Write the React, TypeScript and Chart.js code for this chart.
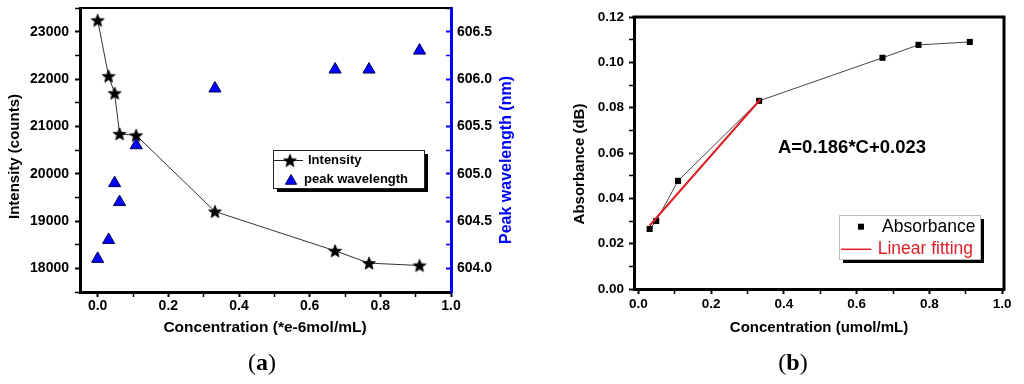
import React, { useEffect, useRef } from 'react';
import { Chart, registerables } from 'chart.js';

Chart.register(...registerables);

// ---------- Panel (a) data ----------
const concA = [0, 0.031, 0.048, 0.062, 0.109, 0.332, 0.672, 0.768, 0.911];
const intensity = [23240, 22060, 21700, 20840, 20810, 19200, 18370, 18110, 18060];
const peakWavelength = [604.1, 604.3, 604.9, 604.7, 605.3, 605.9, 606.1, 606.1, 606.3];
const xTicksA = [0, 0.1, 0.2, 0.3, 0.4, 0.5, 0.6, 0.7, 0.8, 0.9, 1.0];
const xLabelsA = ['0.0', '', '0.2', '', '0.4', '', '0.6', '', '0.8', '', '1.0'];
const yTicksA = [17500, 18000, 18500, 19000, 19500, 20000, 20500, 21000, 21500, 22000, 22500, 23000, 23500];
const yLabelsA = ['', '18000', '', '19000', '', '20000', '', '21000', '', '22000', '', '23000', ''];
const y2TicksA = [603.75, 604, 604.25, 604.5, 604.75, 605, 605.25, 605.5, 605.75, 606, 606.25, 606.5, 606.75];
const y2LabelsA = ['', '604.0', '', '604.5', '', '605.0', '', '605.5', '', '606.0', '', '606.5', ''];

// ---------- Panel (b) data ----------
const concB = [0.031, 0.049, 0.109, 0.332, 0.671, 0.770, 0.911];
const absorbance = [0.0265, 0.030, 0.0477, 0.083, 0.102, 0.1077, 0.109];
const fitConc = [0.031, 0.335];
const fitAbs = [0.028, 0.0836];
const xTicksB = [0, 0.1, 0.2, 0.3, 0.4, 0.5, 0.6, 0.7, 0.8, 0.9, 1.0];
const xLabelsB = ['0.0', '', '0.2', '', '0.4', '', '0.6', '', '0.8', '', '1.0'];
const yTicksB = [0, 0.01, 0.02, 0.03, 0.04, 0.05, 0.06, 0.07, 0.08, 0.09, 0.10, 0.11, 0.12];
const yLabelsB = ['0.00', '', '0.02', '', '0.04', '', '0.06', '', '0.08', '', '0.10', '', '0.12'];

const SANS = '"Liberation Sans", Arial, Helvetica, sans-serif';
const BLUE = '#0000ff';
const RED = '#dd1f26';

function makeStar(size: number, outer: number, inner: number, color: string) {
  const c = document.createElement('canvas');
  c.width = size;
  c.height = size;
  const g = c.getContext('2d')!;
  g.fillStyle = color;
  g.strokeStyle = color;
  g.lineWidth = 0.8;
  g.beginPath();
  for (let i = 0; i < 10; i++) {
    const r = i % 2 === 0 ? outer : inner;
    const ang = -Math.PI / 2 + (i * Math.PI) / 5;
    const px = size / 2 + r * Math.cos(ang);
    const py = size / 2 + 0.6 + r * Math.sin(ang);
    if (i === 0) g.moveTo(px, py);
    else g.lineTo(px, py);
  }
  g.closePath();
  g.fill();
  g.stroke();
  return c;
}

function drawText(ctx: CanvasRenderingContext2D, text: string, x: number, y: number, rot: number, font: string, color: string, align: CanvasTextAlign = 'center') {
  ctx.save();
  ctx.translate(x, y);
  ctx.rotate(rot);
  ctx.font = font;
  ctx.fillStyle = color;
  ctx.textAlign = align;
  ctx.textBaseline = 'middle';
  ctx.fillText(text, 0, 0);
  ctx.restore();
}

function drawTriangle(ctx: CanvasRenderingContext2D, x: number, y: number, r: number) {
  ctx.beginPath();
  ctx.moveTo(x, y - r);
  ctx.lineTo(x + r * Math.sin((2 * Math.PI) / 3), y + r / 2);
  ctx.lineTo(x - r * Math.sin((2 * Math.PI) / 3), y + r / 2);
  ctx.closePath();
  ctx.fillStyle = BLUE;
  ctx.fill();
  ctx.strokeStyle = '#000050';
  ctx.lineWidth = 1;
  ctx.stroke();
}

function linearAxis(opts: any) {
  const { min, max, ticks, labels, position, width, height, tickLen, pad, fontSize, tickColor, borderColor } = opts;
  return {
    type: 'linear',
    position,
    min,
    max,
    afterBuildTicks: (s: any) => {
      s.ticks = ticks.map((v: number) => ({ value: v }));
    },
    afterFit: (s: any) => {
      if (width !== undefined) s.width = width;
      if (height !== undefined) s.height = height;
      s.paddingTop = 0;
      s.paddingBottom = 0;
      s.paddingLeft = 0;
      s.paddingRight = 0;
    },
    ticks: {
      autoSkip: false,
      maxRotation: 0,
      minRotation: 0,
      padding: pad,
      color: '#000',
      font: { family: SANS, size: fontSize, weight: 'bold' },
      callback: (_v: any, i: number) => labels[i],
    },
    grid: {
      display: true,
      drawOnChartArea: false,
      drawTicks: true,
      tickLength: tickLen,
      tickColor: tickColor,
      tickWidth: (c: any) => (labels[c.index] ? 2 : 1.5),
    },
    border: { display: true, color: borderColor, width: 3 },
  };
}

export default function App() {
  const refA = useRef<HTMLCanvasElement>(null);
  const refB = useRef<HTMLCanvasElement>(null);

  useEffect(() => {
    const star = makeStar(16, 6.8, 2.9, '#000');

    const decorA = {
      id: 'decorA',
      afterDraw(chart: any) {
        const { ctx, chartArea: a } = chart;
        ctx.save();
        // top frame line
        ctx.strokeStyle = '#000';
        ctx.lineWidth = 2;
        ctx.beginPath();
        ctx.moveTo(a.left, a.top);
        ctx.lineTo(a.right, a.top);
        ctx.stroke();
        // axis titles
        drawText(ctx, 'Intensity (counts)', 15, 156.5, -Math.PI / 2, `bold 15px ${SANS}`, '#000');
        drawText(ctx, 'Peak wavelength (nm)', 507, 160, -Math.PI / 2, `bold 16px ${SANS}`, BLUE);
        drawText(ctx, 'Concentration (*e-6mol/mL)', 265, 328, 0, `bold 15.5px ${SANS}`, '#000');
        // legend
        const lx = 273, ly = 150, lw = 151, lh = 38;
        ctx.fillStyle = '#000';
        ctx.fillRect(lx + 4, ly + 4, lw, lh);
        ctx.fillStyle = '#fff';
        ctx.fillRect(lx, ly, lw, lh);
        ctx.strokeStyle = '#222';
        ctx.lineWidth = 1;
        ctx.strokeRect(lx + 0.5, ly + 0.5, lw, lh);
        ctx.beginPath();
        ctx.moveTo(lx + 1, 160.5);
        ctx.lineTo(lx + 30, 160.5);
        ctx.strokeStyle = '#222';
        ctx.stroke();
        ctx.drawImage(star, 290 - 8, 160.5 - 8);
        drawText(ctx, 'Intensity', 308, 160.5, 0, `bold 13px ${SANS}`, '#000', 'left');
        drawTriangle(ctx, 291, 181, 6.5);
        drawText(ctx, 'peak wavelength', 304, 179.5, 0, `bold 13px ${SANS}`, '#000', 'left');
        ctx.restore();
      },
    };

    const chartA = new Chart(refA.current!, {
      type: 'scatter',
      data: {
        datasets: [
          {
            label: 'peak wavelength',
            data: concA.map((x, i) => ({ x, y: peakWavelength[i] })),
            yAxisID: 'y2',
            showLine: false,
            pointStyle: 'triangle',
            pointRadius: 7,
            backgroundColor: BLUE,
            borderColor: '#000050',
            borderWidth: 1,
            order: 0,
          },
          {
            label: 'Intensity',
            data: concA.map((x, i) => ({ x, y: intensity[i] })),
            yAxisID: 'y',
            showLine: true,
            borderColor: '#333',
            borderWidth: 1,
            pointStyle: star as any,
            pointRadius: 6,
            backgroundColor: '#000',
            order: 1,
          },
        ],
      },
      options: {
        responsive: false,
        maintainAspectRatio: false,
        animation: false,
        events: [],
        layout: { padding: { left: 0, right: 0, top: 7, bottom: 42 } },
        plugins: { legend: { display: false }, tooltip: { enabled: false } },
        scales: {
          x: linearAxis({ min: -0.05, max: 1.0, ticks: xTicksA, labels: xLabelsA, position: 'bottom', height: 50, tickLen: 5, pad: 1, fontSize: 14, tickColor: '#000', borderColor: '#000' }),
          y: linearAxis({ min: 17500, max: 23500, ticks: yTicksA, labels: yLabelsA, position: 'left', width: 80, tickLen: 5, pad: 6, fontSize: 14, tickColor: '#000', borderColor: '#000' }),
          y2: linearAxis({ min: 603.75, max: 606.75, ticks: y2TicksA, labels: y2LabelsA, position: 'right', width: 79, tickLen: -5, pad: 11, fontSize: 14, tickColor: BLUE, borderColor: BLUE }),
        },
      },
      plugins: [decorA],
    } as any);

    const decorB = {
      id: 'decorB',
      afterDraw(chart: any) {
        const { ctx, chartArea: a } = chart;
        ctx.save();
        ctx.strokeStyle = '#000';
        ctx.lineWidth = 3;
        ctx.beginPath();
        ctx.moveTo(a.left - 1.5, a.top);
        ctx.lineTo(a.right, a.top);
        ctx.lineTo(a.right, a.bottom + 1.5);
        ctx.stroke();
        drawText(ctx, 'Absorbance (dB)', 40, 164, -Math.PI / 2, `bold 15px ${SANS}`, '#000');
        drawText(ctx, 'Concentration (umol/mL)', 279, 328, 0, `bold 15px ${SANS}`, '#000');
        drawText(ctx, 'A=0.186*C+0.023', 312, 148, 0, `bold 18.5px ${SANS}`, '#000');
        // legend
        const lx = 299, ly = 215, lw = 141, lh = 44;
        ctx.fillStyle = '#000';
        ctx.fillRect(lx + 4, ly + 4, lw, lh);
        ctx.fillStyle = '#fff';
        ctx.fillRect(lx, ly, lw, lh);
        ctx.strokeStyle = '#bbb';
        ctx.lineWidth = 1;
        ctx.strokeRect(lx + 0.5, ly + 0.5, lw, lh);
        ctx.fillStyle = '#000';
        ctx.fillRect(321 - 3, 226.7 - 3, 6, 6);
        drawText(ctx, 'Absorbance', 342, 227, 0, `17.5px ${SANS}`, '#000', 'left');
        ctx.strokeStyle = RED;
        ctx.lineWidth = 1.5;
        ctx.beginPath();
        ctx.moveTo(301, 249.3);
        ctx.lineTo(331.3, 249.3);
        ctx.stroke();
        drawText(ctx, 'Linear fitting', 337.7, 249.5, 0, `17.5px ${SANS}`, RED, 'left');
        ctx.restore();
      },
    };

    const chartB = new Chart(refB.current!, {
      type: 'scatter',
      data: {
        datasets: [
          {
            label: 'Linear fitting',
            data: fitConc.map((x, i) => ({ x, y: fitAbs[i] })),
            showLine: true,
            borderColor: RED,
            borderWidth: 2,
            pointRadius: 0,
            order: 0,
          },
          {
            label: 'Absorbance',
            data: concB.map((x, i) => ({ x, y: absorbance[i] })),
            showLine: true,
            borderColor: '#444',
            borderWidth: 1,
            pointStyle: 'rect',
            pointRadius: 4.3,
            backgroundColor: '#000',
            pointBorderColor: '#000',
            pointBorderWidth: 0,
            order: 1,
          },
        ],
      },
      options: {
        responsive: false,
        maintainAspectRatio: false,
        animation: false,
        events: [],
        layout: { padding: { left: 0, right: 20, top: 17, bottom: 45 } },
        plugins: { legend: { display: false }, tooltip: { enabled: false } },
        scales: {
          x: linearAxis({ min: -0.012, max: 1.005, ticks: xTicksB, labels: xLabelsB, position: 'bottom', height: 50, tickLen: 5, pad: 2, fontSize: 13.5, tickColor: '#000', borderColor: '#000' }),
          y: linearAxis({ min: 0, max: 0.12, ticks: yTicksB, labels: yLabelsB, position: 'left', width: 94, tickLen: 5, pad: 5, fontSize: 13.5, tickColor: '#000', borderColor: '#000' }),
        },
      },
      plugins: [decorB],
    } as any);

    return () => {
      chartA.destroy();
      chartB.destroy();
    };
  }, []);

  const capStyle: React.CSSProperties = {
    position: 'absolute',
    top: 362,
    transform: 'translate(-50%, -50%)',
    fontFamily: '"Liberation Serif", "Times New Roman", serif',
    fontSize: 24,
    lineHeight: 1,
    color: '#000',
    whiteSpace: 'nowrap',
  };

  return (
    <div style={{ position: 'fixed', left: 0, top: 0, width: 1024, height: 384, background: '#fff', overflow: 'hidden' }}>
      <canvas ref={refA} width={530} height={384} style={{ position: 'absolute', left: 0, top: 0 }} />
      <canvas ref={refB} width={484} height={384} style={{ position: 'absolute', left: 540, top: 0 }} />
      <div style={{ ...capStyle, left: 262 }}>
        (<b>a</b>)
      </div>
      <div style={{ ...capStyle, left: 793 }}>
        (<b>b</b>)
      </div>
    </div>
  );
}
